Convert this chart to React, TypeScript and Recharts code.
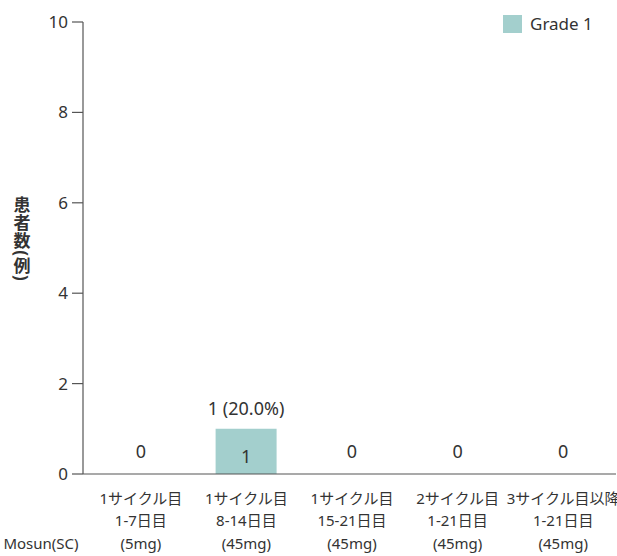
import React from 'react';
import { BarChart, Bar, XAxis, YAxis, ReferenceLine, LabelList } from 'recharts';

const catLine1 = ['1サイクル目', '1サイクル目', '1サイクル目', '2サイクル目', '3サイクル目以降'];
const catLine2 = ['1-7日目', '8-14日目', '15-21日目', '1-21日目', '1-21日目'];
const catLine3 = ['(5mg)', '(45mg)', '(45mg)', '(45mg)', '(45mg)'];
const grade1 = [0, 1, 0, 0, 0];
const pctLabels = ['', '20.0%', '', '', ''];
const yTicks = [0, 2, 4, 6, 8, 10];
const yTitle = '患者数(例)';

const data = catLine1.map((c, i) => ({
  name: `${c} ${catLine2[i]} ${catLine3[i]}`,
  l1: c,
  l2: catLine2[i],
  l3: catLine3[i],
  grade1: grade1[i],
  topLabel: grade1[i] ? `${grade1[i]} (${pctLabels[i]})` : '',
}));

const FONT = '"Noto Sans", "Noto Sans CJK JP", sans-serif';
const TEXT = '#333';
const BAR = '#a3cfcd';
const AXIS = '#555';

const XTick = (props: any) => {
  const { x, y, index } = props;
  const d = data[index];
  return (
    <g fontFamily={FONT} fontSize={15} fill={TEXT}>
      {d.grade1 === 0 && (
        <text x={x} y={y - 22} dy="0.35em" textAnchor="middle" fontSize={18} fill={TEXT}>0</text>
      )}
      <text x={x} y={y + 30} textAnchor="middle" fill={TEXT}>{d.l1}</text>
      <text x={x} y={y + 52} textAnchor="middle" fill={TEXT}>{d.l2}</text>
      <text x={x} y={y + 75} textAnchor="middle" fill={TEXT}>{d.l3}</text>
    </g>
  );
};

const InnerLabel = (props: any) => {
  const { x, y, width, height, value } = props;
  if (!value) return null;
  return (
    <text x={x + width / 2} y={y + height / 2 + 5} dy="0.35em" textAnchor="middle" fontFamily={FONT} fontSize={18} fill={TEXT}>
      {value}
    </text>
  );
};

const TopLabel = (props: any) => {
  const { x, y, width, value } = props;
  if (!value) return null;
  return (
    <text x={x + width / 2} y={y - 20} dy="0.35em" textAnchor="middle" fontFamily={FONT} fontSize={18} fill={TEXT}>
      {value}
    </text>
  );
};

const XLabel = (props: any) => {
  const vb = props.viewBox || {};
  return (
    <text x={vb.x - 42} y={vb.y + 75} textAnchor="middle" fontFamily={FONT} fontSize={15} fill={TEXT}>
      Mosun(SC)
    </text>
  );
};

export default function App() {
  return (
    <div style={{ position: 'absolute', left: 0, top: 0, width: 617, height: 556, background: '#fff' }}>
      <BarChart
        width={617}
        height={556}
        data={data}
        margin={{ top: 22, right: 1, bottom: 0, left: 0 }}
        barCategoryGap={0}
      >
        <XAxis
          dataKey="name"
          height={82}
          axisLine={false}
          tickLine={false}
          tickSize={0}
          tickMargin={0}
          interval={0}
          padding={{ left: 5, right: 0 }}
          tick={<XTick />}
          label={<XLabel />}
        />
        <YAxis
          width={83}
          domain={[0, 10]}
          ticks={yTicks}
          interval={0}
          tickSize={11}
          tickMargin={4}
          axisLine={{ stroke: AXIS, strokeWidth: 1.2 }}
          tickLine={{ stroke: AXIS, strokeWidth: 1.2 }}
          tick={{ fontFamily: FONT, fontSize: 17, fill: TEXT }}
        />
        <ReferenceLine y={0} stroke={AXIS} strokeWidth={1.2} />
        <Bar dataKey="grade1" fill={BAR} barSize={61} isAnimationActive={false}>
          <LabelList dataKey="grade1" content={<InnerLabel />} />
          <LabelList dataKey="topLabel" content={<TopLabel />} />
        </Bar>
      </BarChart>
      <div
        style={{
          position: 'absolute',
          left: 21,
          top: 239,
          transform: 'translate(-50%, -50%)',
          writingMode: 'vertical-rl',
          fontFamily: FONT,
          fontSize: 17,
          fontWeight: 'bold',
          lineHeight: 1,
          letterSpacing: '1px',
          color: TEXT,
          whiteSpace: 'nowrap',
        }}
      >
        {yTitle}
      </div>
      <div
        style={{
          position: 'absolute',
          left: 503,
          top: 15,
          display: 'flex',
          alignItems: 'center',
          fontFamily: FONT,
          fontSize: 17,
          color: TEXT,
          lineHeight: '18px',
        }}
      >
        <span style={{ display: 'inline-block', width: 19, height: 18, background: BAR, marginRight: 8 }} />
        <span>Grade 1</span>
      </div>
    </div>
  );
}
